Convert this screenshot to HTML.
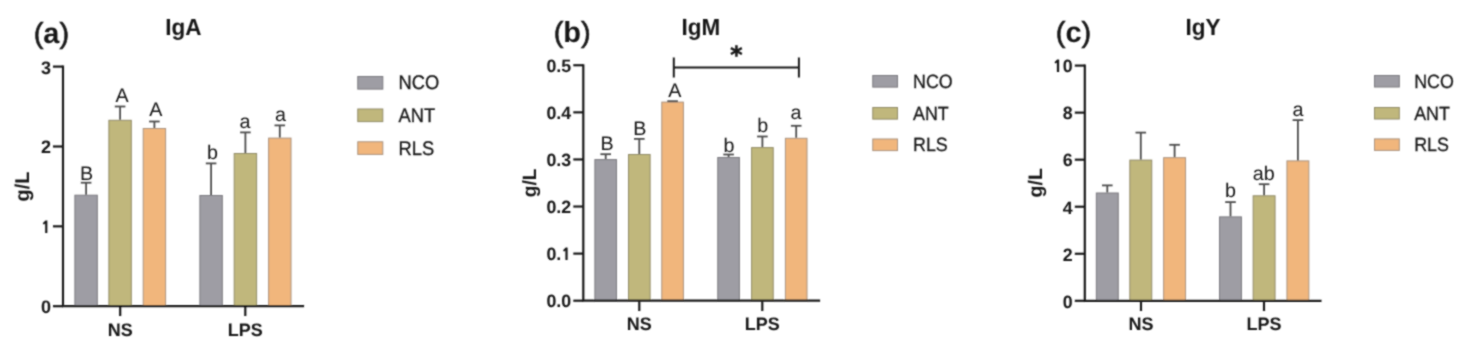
<!DOCTYPE html>
<html><head><meta charset="utf-8"><title>IgA IgM IgY</title>
<style>
html,body{margin:0;padding:0;background:#fff;}
body{width:1470px;height:351px;overflow:hidden;}
svg{display:block;}
#w{width:1470px;height:351px;}
text{text-rendering:geometricPrecision;font-family:"Liberation Sans", Arial, Helvetica, sans-serif;fill:#151515;}
.lt{font-size:19.7px;text-anchor:middle;}
.tk{font-size:18.5px;font-weight:bold;text-anchor:end;}
.xl{font-size:18px;font-weight:bold;text-anchor:middle;}
.ti{font-size:22.5px;font-weight:bold;text-anchor:middle;}
.pl{font-size:29px;text-anchor:middle;}
.pp{stroke:#151515;stroke-width:0.6px;}
.pc{font-weight:bold;}
.yl{font-size:20px;font-weight:bold;text-anchor:middle;}
.lg{font-size:19.7px;stroke:#222;stroke-width:0.3px;}
.one{font-family:NanumGothic,"Liberation Sans",sans-serif;font-weight:800;font-size:16.3px;}
.st{font-family:"DejaVu Sans","Liberation Sans",sans-serif;font-size:23.5px;font-weight:bold;text-anchor:middle;stroke:#111;stroke-width:0.5px;}
</style></head>
<body>
<div id="w">
<svg width="1470" height="351" viewBox="0 0 1470 351">
<defs><filter id="bl" x="0" y="0" width="1470" height="351" filterUnits="userSpaceOnUse"><feConvolveMatrix order="3" kernelMatrix="1 2 1 2 8 2 1 2 1" divisor="20" edgeMode="duplicate"/></filter></defs>
<rect width="1470" height="351" fill="#fff"/>
<g filter="url(#bl)">
<rect x="74.9" y="195.2" width="22.4" height="111" fill="#9e9da4" stroke="#7a797f" stroke-width="1"/>
<rect x="108.9" y="120.3" width="22.4" height="185.9" fill="#c0b77b" stroke="#908a68" stroke-width="1"/>
<rect x="143.2" y="128.5" width="22.4" height="177.7" fill="#f1b67c" stroke="#a8927f" stroke-width="1"/>
<rect x="199.9" y="195.5" width="22.4" height="110.7" fill="#9e9da4" stroke="#7a797f" stroke-width="1"/>
<rect x="234.2" y="153.5" width="22.4" height="152.7" fill="#c0b77b" stroke="#908a68" stroke-width="1"/>
<rect x="268.6" y="138.1" width="22.4" height="168.1" fill="#f1b67c" stroke="#a8927f" stroke-width="1"/>
<line x1="86.1" y1="194.7" x2="86.1" y2="182.7" stroke="#4d4d4d" stroke-width="1.8"/>
<line x1="80.8" y1="182.7" x2="91.4" y2="182.7" stroke="#4d4d4d" stroke-width="1.8"/>
<line x1="120.1" y1="119.8" x2="120.1" y2="106.5" stroke="#4d4d4d" stroke-width="1.8"/>
<line x1="114.8" y1="106.5" x2="125.4" y2="106.5" stroke="#4d4d4d" stroke-width="1.8"/>
<line x1="154.4" y1="128" x2="154.4" y2="121.5" stroke="#4d4d4d" stroke-width="1.8"/>
<line x1="149.1" y1="121.5" x2="159.7" y2="121.5" stroke="#4d4d4d" stroke-width="1.8"/>
<line x1="211.1" y1="195" x2="211.1" y2="163.4" stroke="#4d4d4d" stroke-width="1.8"/>
<line x1="205.8" y1="163.4" x2="216.4" y2="163.4" stroke="#4d4d4d" stroke-width="1.8"/>
<line x1="245.4" y1="153" x2="245.4" y2="132.4" stroke="#4d4d4d" stroke-width="1.8"/>
<line x1="240.1" y1="132.4" x2="250.7" y2="132.4" stroke="#4d4d4d" stroke-width="1.8"/>
<line x1="279.8" y1="137.6" x2="279.8" y2="125.4" stroke="#4d4d4d" stroke-width="1.8"/>
<line x1="274.5" y1="125.4" x2="285.1" y2="125.4" stroke="#4d4d4d" stroke-width="1.8"/>
<text x="86.64" y="179.85" class="lt">B</text>
<text x="122.02" y="101.7" class="lt">A</text>
<text x="155.78" y="116.25" class="lt">A</text>
<text x="212.6" y="159.3" class="lt">b</text>
<text x="244.95" y="128.05" class="lt">a</text>
<text x="280.6" y="120.85" class="lt">a</text>
<path d="M63 66.6V306.2H303" fill="none" stroke="#1a1a1a" stroke-width="2.2" stroke-linecap="square"/>
<line x1="53" y1="306.2" x2="63" y2="306.2" stroke="#1a1a1a" stroke-width="2.2"/>
<text x="50.9" y="313.1" class="tk" style="font-size:18px">0</text>
<line x1="53" y1="226.33" x2="63" y2="226.33" stroke="#1a1a1a" stroke-width="2.2"/>
<text x="50.9" y="233.23" class="tk" style="font-size:18px"><tspan class="one">1</tspan></text>
<line x1="53" y1="146.47" x2="63" y2="146.47" stroke="#1a1a1a" stroke-width="2.2"/>
<text x="50.9" y="153.37" class="tk" style="font-size:18px">2</text>
<line x1="53" y1="66.6" x2="63" y2="66.6" stroke="#1a1a1a" stroke-width="2.2"/>
<text x="50.9" y="73.5" class="tk" style="font-size:18px">3</text>
<line x1="120.2" y1="306.2" x2="120.2" y2="316" stroke="#1a1a1a" stroke-width="2.2"/>
<text x="120.2" y="335.5" class="xl">NS</text>
<line x1="245.3" y1="306.2" x2="245.3" y2="316" stroke="#1a1a1a" stroke-width="2.2"/>
<text x="245.3" y="335.5" class="xl">LPS</text>
<text transform="translate(183.4 35) scale(1 1.034)" class="ti">IgA</text>
<text transform="translate(51.4 43)" class="pl"><tspan class="pp">(</tspan><tspan class="pc">a</tspan><tspan class="pp">)</tspan></text>
<text transform="translate(28.9 186.4) rotate(-90)" x="0" y="0" class="yl" style="font-size:20px">g/L</text>
<rect x="357.8" y="76.5" width="25" height="12.6" fill="#9e9da4" stroke="#7a797f" stroke-width="1"/>
<text transform="translate(398.5 89.4) scale(0.93 1)" class="lg" style="font-size:19.7px">NCO</text>
<rect x="357.8" y="109" width="25" height="12.6" fill="#c0b77b" stroke="#908a68" stroke-width="1"/>
<text transform="translate(398.5 121.9) scale(0.93 1)" class="lg" style="font-size:19.7px">ANT</text>
<rect x="357.8" y="141.8" width="25" height="12.6" fill="#f1b67c" stroke="#a8927f" stroke-width="1"/>
<text transform="translate(398.5 154.7) scale(0.93 1)" class="lg" style="font-size:19.7px">RLS</text>
<rect x="594.9" y="159.6" width="21.6" height="141.1" fill="#9e9da4" stroke="#7a797f" stroke-width="1"/>
<rect x="628.5" y="154.5" width="21.6" height="146.2" fill="#c0b77b" stroke="#908a68" stroke-width="1"/>
<rect x="661.8" y="102.1" width="21.6" height="198.6" fill="#f1b67c" stroke="#a8927f" stroke-width="1"/>
<rect x="717.8" y="157.5" width="21.6" height="143.2" fill="#9e9da4" stroke="#7a797f" stroke-width="1"/>
<rect x="751.6" y="147.6" width="21.6" height="153.1" fill="#c0b77b" stroke="#908a68" stroke-width="1"/>
<rect x="785.4" y="138.3" width="21.6" height="162.4" fill="#f1b67c" stroke="#a8927f" stroke-width="1"/>
<line x1="605.7" y1="159.1" x2="605.7" y2="154.2" stroke="#4d4d4d" stroke-width="1.8"/>
<line x1="600.4" y1="154.2" x2="611" y2="154.2" stroke="#4d4d4d" stroke-width="1.8"/>
<line x1="639.3" y1="154" x2="639.3" y2="138.9" stroke="#4d4d4d" stroke-width="1.8"/>
<line x1="634" y1="138.9" x2="644.6" y2="138.9" stroke="#4d4d4d" stroke-width="1.8"/>
<line x1="672.6" y1="101.6" x2="672.6" y2="101.2" stroke="#4d4d4d" stroke-width="1.8"/>
<line x1="667.3" y1="101.2" x2="677.9" y2="101.2" stroke="#4d4d4d" stroke-width="1.8"/>
<line x1="728.6" y1="157" x2="728.6" y2="154.5" stroke="#4d4d4d" stroke-width="1.8"/>
<line x1="723.3" y1="154.5" x2="733.9" y2="154.5" stroke="#4d4d4d" stroke-width="1.8"/>
<line x1="762.4" y1="147.1" x2="762.4" y2="136.5" stroke="#4d4d4d" stroke-width="1.8"/>
<line x1="757.1" y1="136.5" x2="767.7" y2="136.5" stroke="#4d4d4d" stroke-width="1.8"/>
<line x1="796.2" y1="137.8" x2="796.2" y2="125.8" stroke="#4d4d4d" stroke-width="1.8"/>
<line x1="790.9" y1="125.8" x2="801.5" y2="125.8" stroke="#4d4d4d" stroke-width="1.8"/>
<text x="607.1" y="149.6" class="lt">B</text>
<text x="639.7" y="135.15" class="lt">B</text>
<text x="674.84" y="97.25" class="lt">A</text>
<text x="729" y="151.7" class="lt">b</text>
<text x="762.75" y="132.2" class="lt">b</text>
<text x="796.04" y="119" class="lt">a</text>
<path d="M583.3 65.25V300.7H819" fill="none" stroke="#1a1a1a" stroke-width="2.2" stroke-linecap="square"/>
<line x1="573.3" y1="300.7" x2="583.3" y2="300.7" stroke="#1a1a1a" stroke-width="2.2"/>
<text x="571.2" y="307" class="tk" style="font-size:17.8px">0.0</text>
<line x1="573.3" y1="253.61" x2="583.3" y2="253.61" stroke="#1a1a1a" stroke-width="2.2"/>
<text x="571.2" y="259.91" class="tk" style="font-size:17.8px">0.<tspan class="one">1</tspan></text>
<line x1="573.3" y1="206.52" x2="583.3" y2="206.52" stroke="#1a1a1a" stroke-width="2.2"/>
<text x="571.2" y="212.82" class="tk" style="font-size:17.8px">0.2</text>
<line x1="573.3" y1="159.43" x2="583.3" y2="159.43" stroke="#1a1a1a" stroke-width="2.2"/>
<text x="571.2" y="165.73" class="tk" style="font-size:17.8px">0.3</text>
<line x1="573.3" y1="112.34" x2="583.3" y2="112.34" stroke="#1a1a1a" stroke-width="2.2"/>
<text x="571.2" y="118.64" class="tk" style="font-size:17.8px">0.4</text>
<line x1="573.3" y1="65.25" x2="583.3" y2="65.25" stroke="#1a1a1a" stroke-width="2.2"/>
<text x="571.2" y="71.55" class="tk" style="font-size:17.8px">0.5</text>
<line x1="639.3" y1="300.7" x2="639.3" y2="311" stroke="#1a1a1a" stroke-width="2.2"/>
<text x="639.3" y="329.8" class="xl">NS</text>
<line x1="762.3" y1="300.7" x2="762.3" y2="311" stroke="#1a1a1a" stroke-width="2.2"/>
<text x="762.3" y="329.8" class="xl">LPS</text>
<text transform="translate(700.8 35) scale(1 1.04)" class="ti">IgM</text>
<text transform="translate(572.2 42)" class="pl"><tspan class="pp">(</tspan><tspan class="pc">b</tspan><tspan class="pp">)</tspan></text>
<text transform="translate(536 182.8) rotate(-90)" x="0" y="0" class="yl" style="font-size:19.2px">g/L</text>
<rect x="872.8" y="75.5" width="24.7" height="11.6" fill="#9e9da4" stroke="#7a797f" stroke-width="1"/>
<text transform="translate(913 87.8) scale(0.93 1)" class="lg" style="font-size:19.2px">NCO</text>
<rect x="872.8" y="107.5" width="24.7" height="11.6" fill="#c0b77b" stroke="#908a68" stroke-width="1"/>
<text transform="translate(913 119.8) scale(0.93 1)" class="lg" style="font-size:19.2px">ANT</text>
<rect x="872.8" y="139" width="24.7" height="11.6" fill="#f1b67c" stroke="#a8927f" stroke-width="1"/>
<text transform="translate(913 151.3) scale(0.93 1)" class="lg" style="font-size:19.2px">RLS</text>
<path d="M673.8 67.5H798.9M673.8 57.5V77.5M798.9 57.5V77.5" stroke="#1a1a1a" stroke-width="2"/>
<text x="736.3" y="62.9" class="st">*</text>
<rect x="1096.35" y="193" width="21.9" height="107.8" fill="#9e9da4" stroke="#7a797f" stroke-width="1"/>
<rect x="1129.85" y="160.1" width="21.9" height="140.7" fill="#c0b77b" stroke="#908a68" stroke-width="1"/>
<rect x="1163.65" y="157.7" width="21.9" height="143.1" fill="#f1b67c" stroke="#a8927f" stroke-width="1"/>
<rect x="1219.55" y="216.9" width="21.9" height="83.9" fill="#9e9da4" stroke="#7a797f" stroke-width="1"/>
<rect x="1253.15" y="195.8" width="21.9" height="105" fill="#c0b77b" stroke="#908a68" stroke-width="1"/>
<rect x="1286.95" y="160.9" width="21.9" height="139.9" fill="#f1b67c" stroke="#a8927f" stroke-width="1"/>
<line x1="1107.3" y1="192.5" x2="1107.3" y2="185.4" stroke="#4d4d4d" stroke-width="1.8"/>
<line x1="1102" y1="185.4" x2="1112.6" y2="185.4" stroke="#4d4d4d" stroke-width="1.8"/>
<line x1="1140.8" y1="159.6" x2="1140.8" y2="132.6" stroke="#4d4d4d" stroke-width="1.8"/>
<line x1="1135.5" y1="132.6" x2="1146.1" y2="132.6" stroke="#4d4d4d" stroke-width="1.8"/>
<line x1="1174.6" y1="157.2" x2="1174.6" y2="144.8" stroke="#4d4d4d" stroke-width="1.8"/>
<line x1="1169.3" y1="144.8" x2="1179.9" y2="144.8" stroke="#4d4d4d" stroke-width="1.8"/>
<line x1="1230.5" y1="216.4" x2="1230.5" y2="202.1" stroke="#4d4d4d" stroke-width="1.8"/>
<line x1="1225.2" y1="202.1" x2="1235.8" y2="202.1" stroke="#4d4d4d" stroke-width="1.8"/>
<line x1="1264.1" y1="195.3" x2="1264.1" y2="184.2" stroke="#4d4d4d" stroke-width="1.8"/>
<line x1="1258.8" y1="184.2" x2="1269.4" y2="184.2" stroke="#4d4d4d" stroke-width="1.8"/>
<line x1="1297.9" y1="160.4" x2="1297.9" y2="120.1" stroke="#4d4d4d" stroke-width="1.8"/>
<line x1="1292.6" y1="120.1" x2="1303.2" y2="120.1" stroke="#4d4d4d" stroke-width="1.8"/>
<text x="1230.4" y="197.35" class="lt">b</text>
<text x="1263.7" y="180.2" class="lt">ab</text>
<text x="1297.9" y="115.85" class="lt">a</text>
<path d="M1084.8 65.6V300.8H1320.4" fill="none" stroke="#1a1a1a" stroke-width="2.2" stroke-linecap="square"/>
<line x1="1074.8" y1="300.8" x2="1084.8" y2="300.8" stroke="#1a1a1a" stroke-width="2.2"/>
<text x="1072.6" y="307.6" class="tk" style="font-size:17.8px">0</text>
<line x1="1074.8" y1="253.76" x2="1084.8" y2="253.76" stroke="#1a1a1a" stroke-width="2.2"/>
<text x="1072.6" y="260.56" class="tk" style="font-size:17.8px">2</text>
<line x1="1074.8" y1="206.72" x2="1084.8" y2="206.72" stroke="#1a1a1a" stroke-width="2.2"/>
<text x="1072.6" y="213.52" class="tk" style="font-size:17.8px">4</text>
<line x1="1074.8" y1="159.68" x2="1084.8" y2="159.68" stroke="#1a1a1a" stroke-width="2.2"/>
<text x="1072.6" y="166.48" class="tk" style="font-size:17.8px">6</text>
<line x1="1074.8" y1="112.64" x2="1084.8" y2="112.64" stroke="#1a1a1a" stroke-width="2.2"/>
<text x="1072.6" y="119.44" class="tk" style="font-size:17.8px">8</text>
<line x1="1074.8" y1="65.6" x2="1084.8" y2="65.6" stroke="#1a1a1a" stroke-width="2.2"/>
<text x="1072.6" y="72.4" class="tk" style="font-size:17.8px"><tspan class="one">1</tspan>0</text>
<line x1="1141" y1="300.8" x2="1141" y2="311" stroke="#1a1a1a" stroke-width="2.2"/>
<text x="1141" y="329.9" class="xl">NS</text>
<line x1="1264" y1="300.8" x2="1264" y2="311" stroke="#1a1a1a" stroke-width="2.2"/>
<text x="1264" y="329.9" class="xl">LPS</text>
<text transform="translate(1203 35) scale(1 1.04)" class="ti">IgY</text>
<text transform="translate(1073.5 42)" class="pl"><tspan class="pp">(</tspan><tspan class="pc">c</tspan><tspan class="pp">)</tspan></text>
<text transform="translate(1041.5 182.8) rotate(-90)" x="0" y="0" class="yl" style="font-size:19.6px">g/L</text>
<rect x="1374.5" y="75.5" width="24.8" height="11.5" fill="#9e9da4" stroke="#7a797f" stroke-width="1"/>
<text transform="translate(1414.2 87.7) scale(0.93 1)" class="lg" style="font-size:19.2px">NCO</text>
<rect x="1374.5" y="107.5" width="24.8" height="11.5" fill="#c0b77b" stroke="#908a68" stroke-width="1"/>
<text transform="translate(1414.2 119.7) scale(0.93 1)" class="lg" style="font-size:19.2px">ANT</text>
<rect x="1374.5" y="138.9" width="24.8" height="11.5" fill="#f1b67c" stroke="#a8927f" stroke-width="1"/>
<text transform="translate(1414.2 151.1) scale(0.93 1)" class="lg" style="font-size:19.2px">RLS</text>
</g>
</svg>
</div>
</body></html>
